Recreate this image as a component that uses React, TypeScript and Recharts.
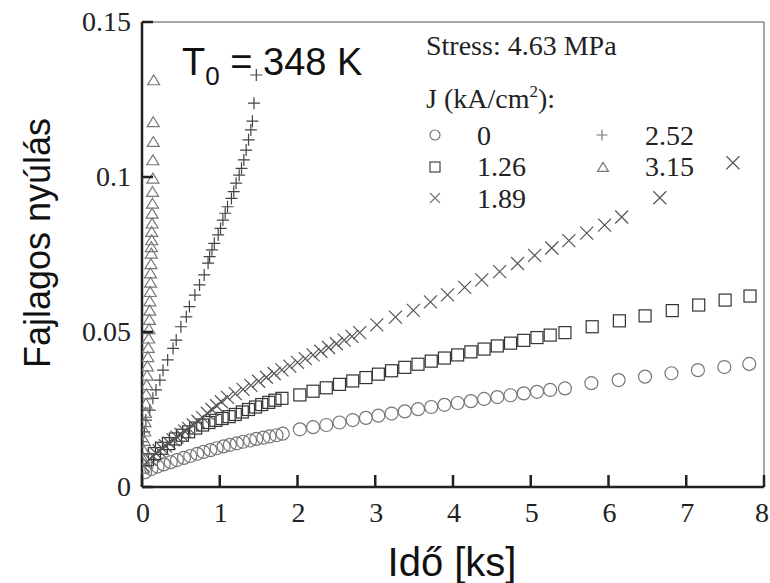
import React from 'react';
import { ScatterChart, Scatter, XAxis, YAxis, ReferenceLine } from 'recharts';

// tick values
const xTicks = [0, 1, 2, 3, 4, 5, 6, 7, 8];
const yTicks = [0, 0.05, 0.1, 0.15];

// J = 0 kA/cm2 (circles)
const j0Time = [
  0.04, 0.12, 0.2, 0.28, 0.37, 0.45, 0.54, 0.62, 0.71, 0.79, 0.88, 0.96, 1.05, 1.13, 1.22, 1.3, 1.39, 1.47, 1.56, 1.64, 1.73, 1.81,
  2.03, 2.2, 2.37, 2.54, 2.71, 2.88, 3.04, 3.21, 3.38, 3.55, 3.72, 3.89, 4.06, 4.23, 4.4, 4.57, 4.74, 4.91, 5.08, 5.25, 5.44,
  5.78, 6.13, 6.47, 6.81, 7.15, 7.49, 7.81,
];
const j0Strain = [
  0.0048, 0.0058, 0.0066, 0.0073, 0.008, 0.0087, 0.0094, 0.01, 0.0107, 0.0113, 0.0119, 0.0125, 0.0131, 0.0136, 0.0141, 0.0146, 0.015, 0.0155, 0.0159, 0.0163, 0.0167, 0.0172,
  0.0186, 0.0193, 0.02, 0.0208, 0.0216, 0.0223, 0.023, 0.0237, 0.0244, 0.0251, 0.0258, 0.0265, 0.0271, 0.0277, 0.0284, 0.029, 0.0296, 0.0302, 0.0307, 0.0313, 0.0318,
  0.0335, 0.0345, 0.0356, 0.0367, 0.0377, 0.0387, 0.0397,
];

// J = 1.26 (squares)
const j126Time = [
  0.07, 0.16, 0.25, 0.34, 0.43, 0.52, 0.6, 0.69, 0.78, 0.86, 0.95, 1.03, 1.12, 1.2, 1.29, 1.37, 1.46, 1.54, 1.63, 1.71, 1.8,
  2.03, 2.2, 2.37, 2.54, 2.71, 2.88, 3.04, 3.21, 3.38, 3.55, 3.72, 3.89, 4.06, 4.23, 4.4, 4.57, 4.74, 4.91, 5.08, 5.25, 5.44,
  5.79, 6.14, 6.47, 6.82, 7.16, 7.5, 7.82,
];
const j126Strain = [
  0.0088, 0.0108, 0.0125, 0.014, 0.0155, 0.0167, 0.0178, 0.019, 0.02, 0.0208, 0.0215, 0.0221, 0.0227, 0.0234, 0.0242, 0.025, 0.0258, 0.0266, 0.0273, 0.028, 0.0286,
  0.0297, 0.0309, 0.032, 0.0331, 0.0342, 0.0353, 0.0364, 0.0375, 0.0386, 0.0396, 0.0406, 0.0416, 0.0426, 0.0436, 0.0445, 0.0455, 0.0464, 0.0473, 0.0482, 0.049, 0.0498,
  0.0517, 0.0536, 0.0552, 0.0569, 0.0587, 0.0603, 0.0616,
];

// J = 1.89 (crosses)
const j189Time = [
  0.02, 0.06, 0.1, 0.14, 0.18, 0.22, 0.26, 0.3, 0.35, 0.4, 0.45, 0.5, 0.55, 0.6, 0.66, 0.72, 0.78, 0.84, 0.9, 0.96, 1.02,
  1.1, 1.2, 1.3, 1.4, 1.5, 1.6, 1.7, 1.8, 1.9, 2.0, 2.1, 2.2, 2.3, 2.4, 2.5, 2.6, 2.7, 2.8,
  3.02, 3.26, 3.49, 3.71, 3.93, 4.15, 4.37, 4.6, 4.83, 5.05, 5.27, 5.49, 5.72, 5.95, 6.17, 6.66, 7.6,
];
const j189Strain = [
  0.0068, 0.008, 0.009, 0.01, 0.0109, 0.0117, 0.0125, 0.0133, 0.0142, 0.0152, 0.0161, 0.017, 0.018, 0.0189, 0.02, 0.0212, 0.0224, 0.0238, 0.025, 0.0262, 0.0275,
  0.0289, 0.0301, 0.0315, 0.0328, 0.0341, 0.0354, 0.0366, 0.0378, 0.039, 0.0402, 0.0414, 0.0426, 0.0438, 0.045, 0.0462, 0.0474, 0.0486, 0.0498,
  0.0523, 0.0548, 0.057, 0.0597, 0.062, 0.0644, 0.0668, 0.0695, 0.0721, 0.0747, 0.0771, 0.0795, 0.0819, 0.0845, 0.0871, 0.0933, 0.1046,
];

// J = 2.52 (plus)
const j252Time = [
  0.0, 0.01, 0.03, 0.05, 0.1, 0.14, 0.18, 0.23, 0.27, 0.33, 0.4, 0.44, 0.5, 0.57, 0.61, 0.68, 0.74, 0.8, 0.85,
  0.87, 0.9, 0.93, 0.98, 1.01, 1.04, 1.07, 1.1, 1.15, 1.18, 1.21, 1.25, 1.28, 1.31, 1.34, 1.37, 1.4, 1.42, 1.44, 1.47,
];
const j252Strain = [
  0.0105, 0.0146, 0.0178, 0.0216, 0.0248, 0.0286, 0.0313, 0.0345, 0.0377, 0.041, 0.0447, 0.0474, 0.0517, 0.0549, 0.0582, 0.0619, 0.0652, 0.0684, 0.0722,
  0.0743, 0.0765, 0.0786, 0.0813, 0.0834, 0.0861, 0.0883, 0.0904, 0.0931, 0.0953, 0.098, 0.1006, 0.1028, 0.1055, 0.1087, 0.112, 0.1152, 0.118, 0.1238, 0.1329,
];

// J = 3.15 (triangles)
const j315Time = [
  0.01, 0.015, 0.02, 0.03, 0.035, 0.04, 0.045, 0.05, 0.055, 0.06, 0.065, 0.07, 0.075, 0.08, 0.085, 0.09, 0.095, 0.1,
  0.1, 0.105, 0.11, 0.11, 0.115, 0.12, 0.12, 0.125, 0.125, 0.13, 0.13, 0.135, 0.135, 0.14, 0.14, 0.145, 0.145, 0.15,
];
const j315Strain = [
  0.006, 0.009, 0.012, 0.015, 0.018, 0.021, 0.024, 0.027, 0.03, 0.033, 0.036, 0.039, 0.042, 0.045, 0.048, 0.051, 0.054, 0.057,
  0.06, 0.063, 0.066, 0.069, 0.072, 0.0754, 0.0775, 0.0797, 0.0824, 0.0851, 0.0883, 0.0915, 0.0953, 0.0996, 0.1055, 0.1114, 0.1178, 0.1313,
];

const toPoints = (xs: number[], ys: number[]) => xs.map((x, i) => ({ x, y: ys[i] }));

const serif = '"Liberation Serif", "Times New Roman", serif';
const sans = '"Liberation Sans", Arial, sans-serif';

type Kind = 'circle' | 'square' | 'cross' | 'plus' | 'triangle';

function Marker({ cx, cy, kind, s, color }: { cx: number; cy: number; kind: Kind; s: number; color: string }) {
  if (cx == null || cy == null) return null;
  const h = s / 2;
  const common = { fill: 'none', stroke: color, strokeWidth: 1.2 };
  switch (kind) {
    case 'circle':
      return <circle cx={cx} cy={cy} r={h} {...common} />;
    case 'square':
      return <rect x={cx - h} y={cy - h} width={s} height={s} {...common} />;
    case 'cross':
      return (
        <path d={`M${cx - h},${cy - h}L${cx + h},${cy + h}M${cx - h},${cy + h}L${cx + h},${cy - h}`} {...common} />
      );
    case 'plus':
      return <path d={`M${cx - h},${cy}L${cx + h},${cy}M${cx},${cy - h}L${cx},${cy + h}`} {...common} />;
    case 'triangle':
      return (
        <path d={`M${cx},${cy - h * 0.85}L${cx + h},${cy + h * 0.8}L${cx - h},${cy + h * 0.8}Z`} {...common} />
      );
  }
  return null;
}

const shapeOf = (kind: Kind, color: string, s = 12) => (p: any) => (
  <Marker cx={p.cx} cy={p.cy} kind={kind} s={s} color={color} />
);

const XTick = (p: any) => (
  <g>
    <line x1={p.x} y1={p.y} x2={p.x} y2={p.y - 12} stroke="#222" strokeWidth={2.5} />
    <text
      x={p.payload.value === 8 ? p.x - 2 : p.x + 1}
      y={p.y + 35}
      textAnchor="middle"
      fontFamily={serif}
      fontSize={28}
      fill="#222"
    >
      {p.payload.value}
    </text>
  </g>
);

const YTick = (p: any) => (
  <g>
    <line x1={p.x} y1={p.y} x2={p.x + 11} y2={p.y} stroke="#222" strokeWidth={2.5} />
    <text x={p.x - 11} y={p.y + 9} textAnchor="end" fontFamily={serif} fontSize={28} fill="#222">
      {p.payload.value}
    </text>
  </g>
);

export default function App() {
  return (
    <div style={{ position: 'absolute', left: 0, top: 0, width: 770, height: 583, background: '#fff' }}>
      <ScatterChart width={770} height={583} margin={{ top: 22, right: 6, bottom: 0, left: 0 }}>
        <XAxis
          type="number"
          dataKey="x"
          domain={[0, 8]}
          ticks={xTicks}
          tickSize={0}
          tickMargin={0}
          tickLine={false}
          tick={XTick}
          axisLine={{ stroke: '#222', strokeWidth: 2.5 }}
          height={96}
          allowDataOverflow
        />
        <YAxis
          type="number"
          dataKey="y"
          domain={[0, 0.15]}
          ticks={yTicks}
          tickSize={0}
          tickMargin={0}
          tickLine={false}
          tick={YTick}
          axisLine={{ stroke: '#222', strokeWidth: 2.5 }}
          width={142}
          allowDataOverflow
        />
        <ReferenceLine y={0.15} stroke="#888" strokeWidth={1.5} />
        <ReferenceLine x={8} stroke="#888" strokeWidth={1.5} />
        <Scatter data={toPoints(j0Time, j0Strain)} shape={shapeOf('circle', '#777', 13)} isAnimationActive={false} />
        <Scatter data={toPoints(j126Time, j126Strain)} shape={shapeOf('square', '#333', 12)} isAnimationActive={false} />
        <Scatter data={toPoints(j189Time, j189Strain)} shape={shapeOf('cross', '#555', 13)} isAnimationActive={false} />
        <Scatter data={toPoints(j252Time, j252Strain)} shape={shapeOf('plus', '#444', 12)} isAnimationActive={false} />
        <Scatter data={toPoints(j315Time, j315Strain)} shape={shapeOf('triangle', '#777', 12)} isAnimationActive={false} />
      </ScatterChart>
      <svg width={770} height={583} style={{ position: 'absolute', left: 0, top: 0, pointerEvents: 'none' }}>
        <text
          transform="translate(50,243) rotate(-90)"
          textAnchor="middle"
          fontFamily={sans}
          fontSize={36}
          fill="#111"
        >
          Fajlagos nyúlás
        </text>
        <text x={452} y={576} textAnchor="middle" fontFamily={sans} fontSize={40} fill="#111">
          Idő [ks]
        </text>
        <text x={182} y={75} fontFamily={sans} fontSize={38} fill="#111">
          T<tspan fontSize={26} dy={10}>0</tspan>
          <tspan dy={-10}> = 348 K</tspan>
        </text>
        <text x={426} y={55} fontFamily={serif} fontSize={28} fill="#222">
          Stress: 4.63 MPa
        </text>
        <text x={426} y={108} fontFamily={serif} fontSize={28} fill="#222">
          J (kA/cm<tspan fontSize={17} dy={-11}>2</tspan>
          <tspan dy={11}>):</tspan>
        </text>
        <Marker cx={435} cy={135} kind="circle" s={10} color="#777" />
        <Marker cx={435} cy={167} kind="square" s={10} color="#444" />
        <Marker cx={435} cy={198} kind="cross" s={10} color="#777" />
        <Marker cx={602} cy={135} kind="plus" s={11} color="#777" />
        <Marker cx={603} cy={167} kind="triangle" s={11} color="#777" />
        <g fontFamily={serif} fontSize={28} fill="#222">
          <text x={477} y={145}>0</text>
          <text x={477} y={176}>1.26</text>
          <text x={477} y={208}>1.89</text>
          <text x={645} y={145}>2.52</text>
          <text x={645} y={176}>3.15</text>
        </g>
      </svg>
    </div>
  );
}
